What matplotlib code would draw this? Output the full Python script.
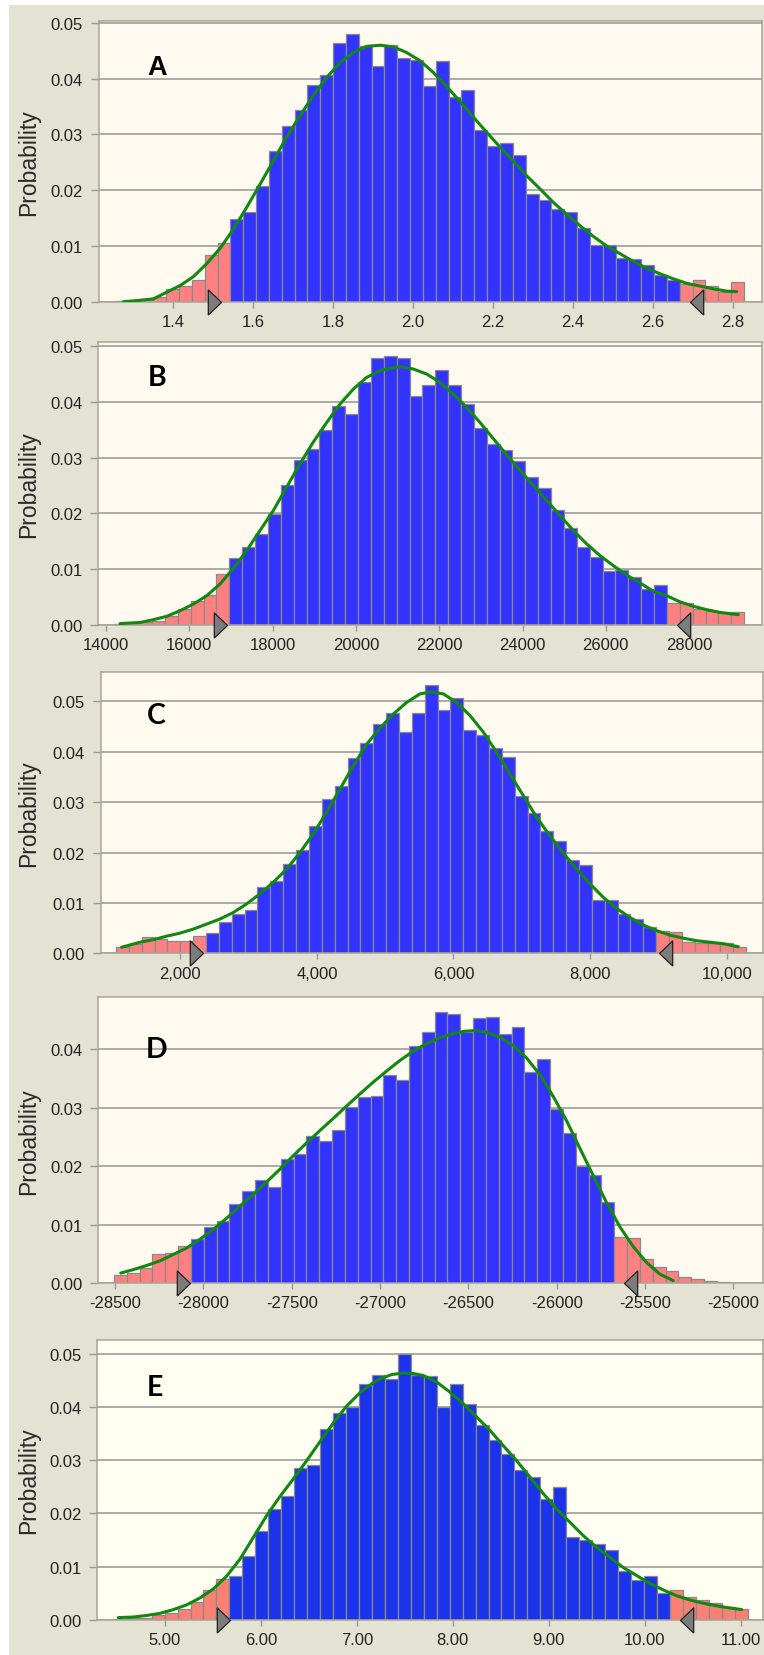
import numpy as np
import matplotlib.pyplot as plt
from matplotlib.patches import Rectangle

plt.rcParams['font.family'] = ['Liberation Sans', 'DejaVu Sans']

W, H = 764, 1656

# ---------------- panel A ----------------
a_bin_start = 1.2545
a_bin_width = 0.0321
a_heights = [0.0001, 0.0002, 0.0005, 0.0009, 0.0023, 0.0028, 0.0039, 0.0083, 0.0105,
             0.0148, 0.0160, 0.0208, 0.0271, 0.0315, 0.0343, 0.0389, 0.0407, 0.0464, 0.0481,
             0.0458, 0.0423, 0.0461, 0.0437, 0.0434, 0.0386, 0.0432, 0.0368, 0.0380, 0.0308,
             0.0280, 0.0285, 0.0264, 0.0194, 0.0182, 0.0167, 0.0160, 0.0133, 0.0102, 0.0102,
             0.0079, 0.0077, 0.0066, 0.0047, 0.0039,
             0.0031, 0.0039, 0.0028, 0.0017, 0.0036]
a_tails = (9, 5)
a_curve_x = [1.276, 1.310, 1.351, 1.384, 1.418, 1.451, 1.484, 1.518, 1.551, 1.584, 1.618, 1.651,
             1.684, 1.718, 1.751, 1.784, 1.818, 1.851, 1.884, 1.918, 1.951, 1.984, 2.018, 2.051,
             2.084, 2.118, 2.151, 2.184, 2.218, 2.251, 2.284, 2.318, 2.351, 2.384, 2.418, 2.451,
             2.484, 2.518, 2.551, 2.584, 2.618, 2.651, 2.684, 2.718, 2.751, 2.784, 2.809]
a_curve_y = [0.0000, 0.0002, 0.0005, 0.0017, 0.0029, 0.0045, 0.0068, 0.0096, 0.0130, 0.0169,
             0.0211, 0.0253, 0.0295, 0.0334, 0.0370, 0.0402, 0.0429, 0.0447, 0.0458, 0.0460,
             0.0457, 0.0447, 0.0432, 0.0411, 0.0386, 0.0359, 0.0331, 0.0304, 0.0277, 0.0252,
             0.0226, 0.0202, 0.0178, 0.0157, 0.0136, 0.0117, 0.0100, 0.0086, 0.0072, 0.0060,
             0.0050, 0.0041, 0.0033, 0.0028, 0.0023, 0.0019, 0.0018]
a_grabbers = (1.519, 2.693)
a_xticks = [1.4, 1.6, 1.8, 2.0, 2.2, 2.4, 2.6, 2.8]
a_xlabels = ['1.4', '1.6', '1.8', '2.0', '2.2', '2.4', '2.6', '2.8']
a_yticks = [0.0, 0.01, 0.02, 0.03, 0.04, 0.05]

# ---------------- panel B ----------------
b_bin_start = 14180
b_bin_width = 309
b_heights = [0.0002, 0.0003, 0.0004, 0.0007, 0.0015, 0.0028, 0.0043, 0.0054, 0.0091,
             0.0119, 0.0140, 0.0163, 0.0199, 0.0250, 0.0296, 0.0316, 0.0350, 0.0393, 0.0378,
             0.0435, 0.0479, 0.0482,
             0.0479, 0.0410, 0.0430, 0.0457, 0.0430, 0.0396, 0.0353, 0.0325, 0.0313, 0.0293,
             0.0266, 0.0246, 0.0206, 0.0174, 0.0139, 0.0122, 0.0097, 0.0099, 0.0086, 0.0064,
             0.0071,
             0.0039, 0.0039, 0.0029, 0.0025, 0.0023, 0.0022]
b_tails = (9, 6)
b_curve_x = [14336, 14816, 15136, 15457, 15777, 16097, 16417, 16737, 17057, 17377, 17697,
             18018, 18338, 18658, 18978, 19298, 19618, 19938, 20258, 20578, 20899, 21099,
             21379, 21699, 22020, 22340, 22660, 22980, 23300, 23620, 23940, 24260, 24581,
             24901, 25221, 25541, 25861, 26181, 26501, 26821, 27141, 27462, 27782, 28102,
             28422, 28742, 29062, 29182]
b_curve_y = [0.0002, 0.0004, 0.0009, 0.0015, 0.0025, 0.0037, 0.0052, 0.0073, 0.0101, 0.0133,
             0.0169, 0.0205, 0.0247, 0.0289, 0.0328, 0.0363, 0.0396, 0.0423, 0.0444, 0.0456,
             0.0462, 0.0463, 0.0459, 0.0450, 0.0435, 0.0414, 0.0390, 0.0363, 0.0334, 0.0305,
             0.0277, 0.0250, 0.0223, 0.0196, 0.0169, 0.0145, 0.0124, 0.0106, 0.0089, 0.0075,
             0.0060, 0.0052, 0.0041, 0.0033, 0.0027, 0.0022, 0.0019, 0.0018]
b_grabbers = (16897, 27702)
b_xticks = [14000, 16000, 18000, 20000, 22000, 24000, 26000, 28000]
b_xlabels = ['14000', '16000', '18000', '20000', '22000', '24000', '26000', '28000']
b_yticks = [0.0, 0.01, 0.02, 0.03, 0.04, 0.05]

# ---------------- panel C ----------------
c_bin_start = 1059
c_bin_width = 188.3
c_heights = [0.0012, 0.0019, 0.0032, 0.0028, 0.0025, 0.0025, 0.0034,
             0.0040, 0.0062, 0.0079, 0.0085, 0.0132, 0.0143, 0.0177, 0.0205, 0.0252, 0.0306,
             0.0333, 0.0387, 0.0417, 0.0455, 0.0478,
             0.0440, 0.0478, 0.0532, 0.0483, 0.0507, 0.0443, 0.0434, 0.0408, 0.0389, 0.0313,
             0.0278, 0.0243, 0.0222, 0.0186, 0.0176, 0.0106, 0.0106, 0.0078, 0.0068, 0.0052,
             0.0045, 0.0043, 0.0023, 0.0020, 0.0020, 0.0020, 0.0013]
c_tails = (7, 7)
c_curve_x = [1141, 1410, 1605, 1800, 1995, 2190, 2386, 2581, 2776, 2971, 3166, 3362, 3557,
             3752, 3947, 4142, 4338, 4533, 4728, 4924, 5119, 5314, 5510, 5680, 5851, 6046,
             6242, 6437, 6632, 6827, 7022, 7218, 7413, 7608, 7803, 7998, 8194, 8389, 8584,
             8779, 8974, 9170, 9365, 9560, 9755, 9950, 10170]
c_curve_y = [0.0012, 0.0022, 0.0027, 0.0034, 0.0040, 0.0048, 0.0058, 0.0068, 0.0081, 0.0098,
             0.0118, 0.0141, 0.0167, 0.0200, 0.0237, 0.0280, 0.0326, 0.0372, 0.0415, 0.0447,
             0.0475, 0.0498, 0.0515, 0.0519, 0.0515, 0.0498, 0.0472, 0.0439, 0.0399, 0.0356,
             0.0313, 0.0270, 0.0233, 0.0199, 0.0167, 0.0138, 0.0111, 0.0089, 0.0071, 0.0056,
             0.0045, 0.0036, 0.0030, 0.0025, 0.0022, 0.0019, 0.0013]
c_grabbers = (2327, 9013)
c_xticks = [2000, 4000, 6000, 8000, 10000]
c_xlabels = ['2,000', '4,000', '6,000', '8,000', '10,000']
c_yticks = [0.0, 0.01, 0.02, 0.03, 0.04, 0.05]

# ---------------- panel D ----------------
d_bin_start = -28506
d_bin_width = 72.6
d_heights = [0.0014, 0.0017, 0.0026, 0.0050, 0.0052, 0.0063,
             0.0075, 0.0096, 0.0106, 0.0136, 0.0157, 0.0176, 0.0165, 0.0213, 0.0221, 0.0251,
             0.0243, 0.0262, 0.0301, 0.0318, 0.0320, 0.0356,
             0.0348, 0.0406, 0.0430, 0.0463, 0.0460, 0.0429, 0.0453, 0.0456, 0.0427, 0.0439,
             0.0361, 0.0384, 0.0298, 0.0256, 0.0201, 0.0185, 0.0138,
             0.0079, 0.0077, 0.0041, 0.0028, 0.0020, 0.0011, 0.0006, 0.0003, 0.0001]
d_tails = (6, 9)
d_curve_x = [-28468, -28396, -28321, -28245, -28170, -28094, -28019, -27943, -27868, -27792,
             -27717, -27642, -27566, -27491, -27415, -27340, -27264, -27189, -27113, -27038,
             -26962, -26887, -26811, -26736, -26660, -26585, -26520, -26460, -26396, -26321,
             -26245, -26170, -26094, -26019, -25943, -25868, -25792, -25717, -25642, -25566,
             -25491, -25415, -25340]
d_curve_y = [0.0017, 0.0023, 0.0030, 0.0038, 0.0049, 0.0060, 0.0075, 0.0092, 0.0111, 0.0132,
             0.0152, 0.0173, 0.0195, 0.0218, 0.0240, 0.0261, 0.0282, 0.0303, 0.0324, 0.0344,
             0.0363, 0.0381, 0.0397, 0.0410, 0.0420, 0.0427, 0.0431, 0.0432, 0.0429, 0.0421,
             0.0406, 0.0385, 0.0356, 0.0319, 0.0277, 0.0230, 0.0183, 0.0137, 0.0096, 0.0062,
             0.0035, 0.0015, 0.0004]
d_grabbers = (-28075, -25617)
d_xticks = [-28500, -28000, -27500, -27000, -26500, -26000, -25500, -25000]
d_xlabels = ['-28500', '-28000', '-27500', '-27000', '-26500', '-26000', '-25500', '-25000']
d_yticks = [0.0, 0.01, 0.02, 0.03, 0.04]

# ---------------- panel E ----------------
e_bin_start = 4.459
e_bin_width = 0.1349
e_heights = [0.0002, 0.0003, 0.0004, 0.0008, 0.0013, 0.0020, 0.0033, 0.0056, 0.0077,
             0.0082, 0.0119, 0.0166, 0.0208, 0.0232, 0.0285, 0.0291, 0.0358, 0.0388, 0.0400,
             0.0444, 0.0460, 0.0453,
             0.0499, 0.0460, 0.0458, 0.0400, 0.0444, 0.0405, 0.0367, 0.0338, 0.0312, 0.0282,
             0.0268, 0.0227, 0.0249, 0.0155, 0.0149, 0.0142, 0.0132, 0.0092, 0.0075, 0.0082,
             0.0051,
             0.0056, 0.0043, 0.0037, 0.0031, 0.0024, 0.0020]
e_tails = (9, 6)
e_curve_x = [4.518, 4.674, 4.813, 4.951, 5.090, 5.229, 5.368, 5.507, 5.645, 5.784, 5.923,
             6.062, 6.201, 6.340, 6.478, 6.617, 6.756, 6.895, 7.034, 7.172, 7.242, 7.363,
             7.484, 7.589, 7.693, 7.831, 7.970, 8.109, 8.248, 8.387, 8.526, 8.664, 8.803,
             8.942, 9.081, 9.220, 9.358, 9.497, 9.636, 9.775, 9.914, 10.052, 10.191, 10.330,
             10.469, 10.608, 10.747, 10.886, 11.007]
e_curve_y = [0.0004, 0.0005, 0.0008, 0.0012, 0.0019, 0.0028, 0.0041, 0.0058, 0.0082, 0.0114,
             0.0155, 0.0196, 0.0232, 0.0265, 0.0299, 0.0335, 0.0370, 0.0402, 0.0427, 0.0446,
             0.0453, 0.0461, 0.0464, 0.0463, 0.0459, 0.0447, 0.0428, 0.0406, 0.0381, 0.0356,
             0.0327, 0.0299, 0.0268, 0.0237, 0.0208, 0.0183, 0.0158, 0.0136, 0.0117, 0.0098,
             0.0083, 0.0068, 0.0056, 0.0045, 0.0037, 0.0031, 0.0026, 0.0022, 0.0019]
e_grabbers = (5.68, 10.365)
e_xticks = [5, 6, 7, 8, 9, 10, 11]
e_xlabels = ['5.00', '6.00', '7.00', '8.00', '9.00', '10.00', '11.00']
e_yticks = [0.0, 0.01, 0.02, 0.03, 0.04, 0.05]

ytick_labels = ['0.00', '0.01', '0.02', '0.03', '0.04', '0.05']

# layout of each screenshot panel, in pixels (left, top, right, bottom of the plot area)
panels = [
    dict(name='A', start=a_bin_start, width=a_bin_width, heights=a_heights, tails=a_tails,
         cx=a_curve_x, cy=a_curve_y, grab=a_grabbers, xt=a_xticks, xl=a_xlabels, yt=a_yticks,
         box=(99, 21.7, 762, 302.7), xlim=(1.215, 2.8725), ymax=0.0504, lab=(157, 68),
         font='Liberation Sans', fsize=19.5),
    dict(name='B', start=b_bin_start, width=b_bin_width, heights=b_heights, tails=b_tails,
         cx=b_curve_x, cy=b_curve_y, grab=b_grabbers, xt=b_xticks, xl=b_xlabels, yt=b_yticks,
         box=(98.3, 343.3, 761.7, 625.7), xlim=(13815, 29743), ymax=0.0507, lab=(157, 378),
         font='Lato', fsize=20.5),
    dict(name='C', start=c_bin_start, width=c_bin_width, heights=c_heights, tails=c_tails,
         cx=c_curve_x, cy=c_curve_y, grab=c_grabbers, xt=c_xticks, xl=c_xlabels, yt=c_yticks,
         box=(100.7, 672.7, 763.3, 954.3), xlim=(835, 10536), ymax=0.0559, lab=(156, 716),
         font='Lato', fsize=20.5),
    dict(name='D', start=d_bin_start, width=d_bin_width, heights=d_heights, tails=d_tails,
         cx=d_curve_x, cy=d_curve_y, grab=d_grabbers, xt=d_xticks, xl=d_xlabels, yt=d_yticks,
         box=(98.3, 998.3, 762.7, 1284), xlim=(-28595, -24834), ymax=0.0489, lab=(157, 1050),
         font='Lato', fsize=20.5),
    dict(name='E', start=e_bin_start, width=e_bin_width, heights=e_heights, tails=e_tails,
         cx=e_curve_x, cy=e_curve_y, grab=e_grabbers, xt=e_xticks, xl=e_xlabels, yt=e_yticks,
         box=(97.3, 1341, 763.3, 1620.7), xlim=(4.298, 11.232), ymax=0.0526, lab=(155, 1388),
         font='Lato', fsize=20.5),
]

BEIGE = '#E4E2D3'
CREAM = '#FEFAEF'
GRID = '#A4A4A4'
FRAME = '#A8A598'

fig = plt.figure(figsize=(W / 100, H / 100), dpi=100, facecolor=BEIGE)
# white strips along the left and top border of the screenshots
fig.patches.append(Rectangle((0, 0), 9 / W, 1, transform=fig.transFigure,
                             facecolor='white', edgecolor='none', zorder=0))
fig.patches.append(Rectangle((0, 1 - 6 / H), 1, 6 / H, transform=fig.transFigure,
                             facecolor='white', edgecolor='none', zorder=0))

# slider grabbers: tall thin triangles with the tip at the value
tri_right = [(-2.1, -2), (0, 0), (-2.1, 2), (-2.1, -2)]
tri_left = [(2.1, -2), (0, 0), (2.1, 2), (2.1, -2)]

for p in panels:
    l, t, r, b = p['box']
    ax = fig.add_axes([l / W, 1 - b / H, (r - l) / W, (b - t) / H])
    ax.set_facecolor('#FFFEF1' if p['name'] == 'E' else CREAM)

    heights = np.array(p['heights'])
    n = len(heights)
    lefts = p['start'] + p['width'] * np.arange(n)
    low, high = p['tails']
    if p['name'] == 'E':
        blue, red = '#1B33EA', '#F98072'
    else:
        blue, red = '#3333FF', '#FF8080'
    colors = [red if (i < low or i >= n - high) else blue for i in range(n)]

    ax.bar(lefts, heights, width=p['width'], align='edge', color=colors,
           edgecolor='#8A8A8A', linewidth=0.9, zorder=2)
    ax.plot(p['cx'], p['cy'], color='#118811', linewidth=2.2, zorder=3,
            solid_capstyle='round', solid_joinstyle='round')

    ax.plot([p['grab'][0]], [0], marker=tri_right, markersize=19, color='#7C7C7C',
            markeredgecolor='#202020', markeredgewidth=0.9, clip_on=False, zorder=6)
    ax.plot([p['grab'][1]], [0], marker=tri_left, markersize=19, color='#7C7C7C',
            markeredgecolor='#202020', markeredgewidth=0.9, clip_on=False, zorder=6)

    ax.set_xlim(*p['xlim'])
    ax.set_ylim(0, p['ymax'])
    ax.set_xticks(p['xt'])
    ax.set_xticklabels(p['xl'])
    ax.set_yticks(p['yt'])
    ax.set_yticklabels(ytick_labels[:len(p['yt'])])

    ax.yaxis.grid(True, color=GRID, linewidth=1.3)
    ax.set_axisbelow(True)
    for s in ax.spines.values():
        s.set_color(FRAME)
        s.set_linewidth(1.1)

    ax.tick_params(axis='x', length=4.5, width=1, color='#9A9A9A', pad=4.5,
                   labelsize=12, labelcolor='#222222')
    ax.tick_params(axis='y', length=6, width=1, color='#9A9A9A', pad=5.5,
                   labelsize=12, labelcolor='#222222')

    # y axis title centred at x = 29 px
    ax.text((29 - l) / (r - l), 0.5, 'Probability', transform=ax.transAxes, rotation=90,
            ha='center', va='center', fontsize=16.5, color='#2A2A2A')

    lx, ly = p['lab']
    fig.text(lx / W, 1 - ly / H, p['name'], ha='center', va='center',
             fontsize=p['fsize'], fontweight='bold', family=p['font'], color='black')

fig.savefig('out.png', dpi=100, facecolor=fig.get_facecolor())
